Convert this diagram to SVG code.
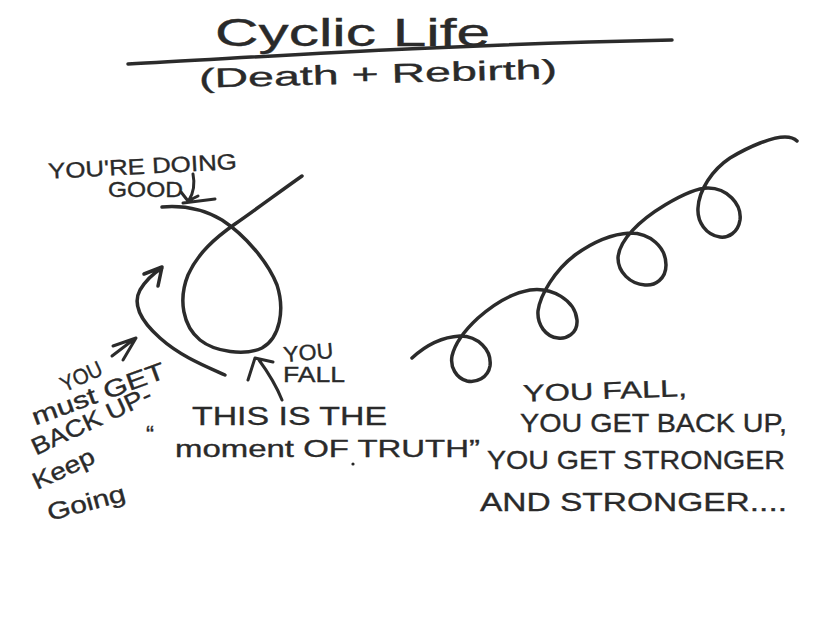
<svg xmlns="http://www.w3.org/2000/svg" width="827" height="623" viewBox="0 0 827 623">
<style>
.ink{fill:none;stroke:#2b2b2b;stroke-width:3.5;stroke-linecap:round;stroke-linejoin:round}
.thin{fill:none;stroke:#2b2b2b;stroke-width:3;stroke-linecap:round;stroke-linejoin:round}
.t{font-family:"Liberation Sans","DejaVu Sans",sans-serif;fill:#2a2a2a;stroke:#2a2a2a;stroke-width:0.35}
</style>
<rect width="827" height="623" fill="#ffffff"/>
<g id="title">
<text class="t" x="215" y="46" font-size="38" textLength="275" lengthAdjust="spacingAndGlyphs">Cyclic Life</text>
<path class="ink" d="M128,64 C250,58 400,46 672,40"/>
<text class="t" x="199" y="83" font-size="27" textLength="358" lengthAdjust="spacingAndGlyphs" transform="rotate(-1.5 378 75)">(Death + Rebirth)</text>
</g>
<g id="connectors">
<path id="loop" class="ink" d="M162,207 C185,205 205,210 222,220 C245,235 268,262 277,285 C285,310 280,338 262,348 C245,356 215,352 200,340 C183,326 178,300 188,275 C198,253 215,238 235,224 C258,208 282,190 302,176"/>
<path id="getup-arrow" class="ink" d="M225,375 C205,366 180,356 160,338 C142,322 132,305 140,290 C146,280 154,273 162,268 M144,274 L162,267 L158,286"/>
<path id="fall-arrow" class="thin" d="M282,400 C278,390 270,375 259,360 M248,380 L255,358 L273,362"/>
<path id="good-arrow" class="thin" d="M193,174 C195,184 194,192 189,200 M181,192 L188,201 L198,196 M183,203 L215,199"/>
<path id="you-arrow" class="thin" d="M113,346 L136,338 L123,360 M112,356 L133,340"/>
<path id="spiral" class="ink" d="M412,358 C425,346 442,337 460,336 C478,336 492,350 490,366 C488,378 476,383 467,381 C456,378 450,367 452,356 C455,343 465,330 478,318 C495,303 512,293 530,290 C552,287 575,300 577,320 C578,334 566,339 558,338 C546,337 537,325 538,311 C540,295 555,270 575,255 C593,242 612,234 630,233 C650,233 666,247 666,265 C666,279 655,286 645,285 C630,284 618,272 618,258 C619,240 640,220 665,205 C680,196 695,188 708,188 C727,188 742,204 740,220 C738,233 728,238 720,237 C706,235 697,222 698,208 C699,190 712,170 730,158 C750,146 772,137 785,137 C790,137 795,139 797,141"/>
</g>
<g id="doing-good">
<text class="t" x="48" y="174" font-size="22" textLength="189" lengthAdjust="spacingAndGlyphs" transform="rotate(-3 140 168)">YOU'RE DOING</text>
<text class="t" x="108" y="197" font-size="22" textLength="75" lengthAdjust="spacingAndGlyphs">GOOD</text>
</g>
<g id="get-back-up">
<text class="t" x="81" y="384" font-size="22" text-anchor="middle" textLength="44" lengthAdjust="spacingAndGlyphs" transform="rotate(-25 81 376)">YOU</text>
<text class="t" x="98" y="402" font-size="24" text-anchor="middle" textLength="140" lengthAdjust="spacingAndGlyphs" transform="rotate(-20 98 393)">must GET</text>
<text class="t" x="91" y="429" font-size="24" text-anchor="middle" textLength="130" lengthAdjust="spacingAndGlyphs" transform="rotate(-25 91 420)">BACK UP-</text>
<text class="t" x="63" y="477" font-size="24" text-anchor="middle" textLength="66" lengthAdjust="spacingAndGlyphs" transform="rotate(-25 63 468)">Keep</text>
<text class="t" x="86" y="511" font-size="24" text-anchor="middle" textLength="80" lengthAdjust="spacingAndGlyphs" transform="rotate(-15 86 502)">Going</text>
</g>
<g id="you-fall">
<text class="t" x="283" y="360" font-size="22" textLength="50" lengthAdjust="spacingAndGlyphs" transform="rotate(-5 308 350)">YOU</text>
<text class="t" x="283" y="382" font-size="22" textLength="62" lengthAdjust="spacingAndGlyphs">FALL</text>
</g>
<g id="moment-of-truth">
<text class="t" x="146" y="443" font-size="24">“</text>
<text class="t" x="192" y="425" font-size="26" textLength="195" lengthAdjust="spacingAndGlyphs">THIS IS THE</text>
<text class="t" x="175" y="457" font-size="24" textLength="305" lengthAdjust="spacingAndGlyphs">moment OF TRUTH”</text>
<circle cx="353" cy="464" r="1.6" fill="#262626"/>
</g>
<g id="stronger">
<text class="t" x="523" y="399" font-size="24" textLength="164" lengthAdjust="spacingAndGlyphs" transform="rotate(-2 605 390)">YOU FALL,</text>
<text class="t" x="520" y="432" font-size="26" textLength="267" lengthAdjust="spacingAndGlyphs">YOU GET BACK UP,</text>
<text class="t" x="487" y="469" font-size="26" textLength="298" lengthAdjust="spacingAndGlyphs">YOU GET STRONGER</text>
<text class="t" x="480" y="511" font-size="26" textLength="307" lengthAdjust="spacingAndGlyphs">AND STRONGER....</text>
</g>
</svg>
